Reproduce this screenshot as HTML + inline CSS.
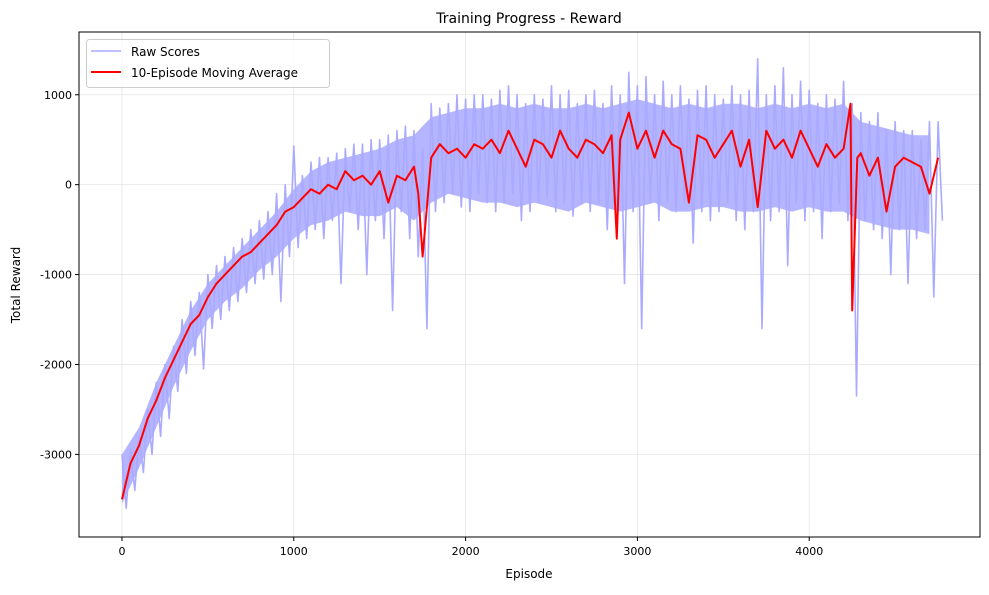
<!DOCTYPE html>
<html><head><meta charset="utf-8"><style>
body{margin:0;background:#fff;}
svg text{font-family:"DejaVu Sans","Liberation Sans",sans-serif;fill:#000;}
</style></head><body>
<svg id="chart" width="989" height="590" viewBox="0 0 989 590">
<text x="529" y="23" font-size="14" text-anchor="middle">Training Progress - Reward</text>
<text x="529" y="578" font-size="12" text-anchor="middle">Episode</text>
<text x="0" y="0" font-size="12" text-anchor="middle" transform="translate(20,285) rotate(-90)">Total Reward</text>
<g id="grid"></g><g id="series"></g><g id="axes"></g>
<g>
<rect x="86.5" y="39.5" width="243" height="48" rx="3" fill="#fff" fill-opacity="0.8" stroke="#ccc"/>
<line x1="91" y1="51" x2="121" y2="51" stroke="#aaaaff" stroke-width="1.5"/>
<text x="131" y="56" font-size="12">Raw Scores</text>
<line x1="91" y1="72" x2="121" y2="72" stroke="#ff0000" stroke-width="2"/>
<text x="131" y="77" font-size="12">10-Episode Moving Average</text>
</g>
</svg>
<script>
const xTicks=[0,1000,2000,3000,4000];
const yTicks=[1000,0,-1000,-2000,-3000];
const rawStep=25;
const rawScores=[-3000,-3600,-2950,-3400,-2800,-3200,-2500,-3000,-2200,-2800,-2000,-2600,-1800,-2300,-1500,-2100,-1300,-1900,-1200,-2050,
-1000,-1600,-900,-1500,-800,-1400,-700,-1300,-600,-1200,-500,-1100,-400,-1050,-300,-1000,-100,-1300,0,-800,
430,-700,100,-600,250,-500,300,-600,300,-400,350,-1100,400,-300,450,-500,450,-1000,500,-400,
500,-600,550,-1400,600,-300,650,-600,600,-800,400,-1600,900,-300,850,-200,900,-100,1000,-250,
950,-300,1000,-100,1000,-200,950,-300,1050,-200,1100,-100,1000,-400,900,-300,1000,-200,950,-150,
1100,-300,1000,-200,1050,-350,900,-200,1000,-300,1050,-200,900,-500,1100,-200,1000,-1100,1250,-300,
1100,-1600,1200,-200,1000,-400,1150,-200,1000,-300,1100,-200,950,-650,1050,-300,1100,-400,1000,-300,
950,-200,1100,-400,1000,-500,1050,-300,1400,-1600,1000,-400,1100,-300,1300,-900,1000,-200,1150,-400,
1050,-300,900,-600,1000,-300,950,-200,1150,-400,900,-2350,800,-400,700,-500,800,-600,600,-1000,
700,-500,600,-1100,600,-600,500,-500,700,-1250,700,-400];
const bandStep=100;
const bandHigh=[-3000,-2700,-2200,-1800,-1400,-1100,-900,-700,-500,-300,-50,150,250,300,350,400,500,550,750,800,850,850,900,850,900,850,850,900,850,900,950,900,850,900,850,900,900,850,900,850,900,850,900,700,650,600,550,550];
const bandLow=[-3550,-3150,-2700,-2250,-1850,-1500,-1300,-1150,-950,-800,-600,-450,-400,-300,-350,-350,-250,-400,-200,-100,-150,-200,-200,-250,-200,-250,-300,-200,-250,-300,-250,-200,-300,-300,-250,-250,-300,-300,-250,-300,-250,-300,-300,-400,-450,-500,-500,-550];
const maEpisodes=[0,50,100,150,200,250,300,350,400,450,500,550,600,650,700,750,800,850,900,950,1000,1050,1100,1150,1200,1250,1300,1350,1400,1450,1500,1550,1600,1650,1700,1725,1750,1800,1850,1900,1950,2000,2050,2100,2150,2200,2250,2300,2350,2400,2450,2500,2550,2600,2650,2700,2750,2800,2850,2880,2900,2950,3000,3050,3100,3150,3200,3250,3300,3350,3400,3450,3500,3550,3600,3650,3700,3750,3800,3850,3900,3950,4000,4050,4100,4150,4200,4240,4250,4280,4300,4350,4400,4450,4500,4550,4600,4650,4700,4750];
const maValues=[-3500,-3100,-2900,-2600,-2400,-2150,-1950,-1750,-1550,-1450,-1250,-1100,-1000,-900,-800,-750,-650,-550,-450,-300,-250,-150,-50,-100,0,-50,150,50,100,0,150,-200,100,50,200,-100,-800,300,450,350,400,300,450,400,500,350,600,400,200,500,450,300,600,400,300,500,450,350,550,-600,500,800,400,600,300,600,450,400,-200,550,500,300,450,600,200,500,-250,600,400,500,300,600,400,200,450,300,400,900,-1400,300,350,100,300,-300,200,300,250,200,-100,300];

const NS='http://www.w3.org/2000/svg';
const L=79,R=980,T=32,B=537;
const xMin=-250,xMax=4994,yMin=-3919,yMax=1698;
const sx=v=>L+(v-xMin)/(xMax-xMin)*(R-L);
const sy=v=>B-(v-yMin)/(yMax-yMin)*(B-T);
const grid=document.getElementById('grid'),axes=document.getElementById('axes'),series=document.getElementById('series');
function mk(tag,attrs,parent){const e=document.createElementNS(NS,tag);for(const k in attrs)e.setAttribute(k,attrs[k]);parent.appendChild(e);return e;}
xTicks.forEach(t=>{
  const g=mk('line',{x1:sx(t),x2:sx(t),y1:T,y2:B,stroke:'#e5e5e5','stroke-width':0.8},grid);
  
  
  const tk=mk('line',{x1:sx(t),x2:sx(t),y1:B,y2:B+4,stroke:'#000'},axes);
  
  
  const tx=mk('text',{x:sx(t),y:B+18,'font-size':11,'text-anchor':'middle'},axes);tx.textContent=t;
  
  
});
yTicks.forEach(t=>{
  const g=mk('line',{x1:L,x2:R,y1:sy(t),y2:sy(t),stroke:'#e5e5e5','stroke-width':0.8},grid);
  
  
  const tk=mk('line',{x1:L-4,x2:L,y1:sy(t),y2:sy(t),stroke:'#000'},axes);
  
  
  const tx=mk('text',{x:L-7,y:sy(t)+4,'font-size':11,'text-anchor':'end'},axes);tx.textContent=t;
  
  
});
const frame=mk('rect',{x:L,y:T,width:R-L,height:B-T,fill:'none',stroke:'#000','stroke-width':1},axes);


const lastBand=maEpisodes[maEpisodes.length-1];
const bx=i=>Math.min(i*bandStep,lastBand);
const bandPts=bandHigh.map((v,i)=>sx(bx(i)).toFixed(1)+','+sy(v).toFixed(1))
  .concat(bandLow.map((v,i)=>sx(bx(i)).toFixed(1)+','+sy(v).toFixed(1)).reverse()).join(' ');
const band=mk('polygon',{points:bandPts,fill:'#b4b4ff','stroke':'none'},series);


const rawPts=rawScores.map((v,i)=>sx(i*rawStep).toFixed(1)+','+sy(v).toFixed(1)).join(' ');
const raw=mk('polyline',{points:rawPts,fill:'none',stroke:'#aaaaff','stroke-width':1.6,'stroke-linejoin':'round'},series);


const maPts=maValues.map((v,i)=>sx(maEpisodes[i]).toFixed(1)+','+sy(v).toFixed(1)).join(' ');
const ma=mk('polyline',{points:maPts,fill:'none',stroke:'#ff0000','stroke-width':2,'stroke-linejoin':'round'},series);


</script>
</body></html>
